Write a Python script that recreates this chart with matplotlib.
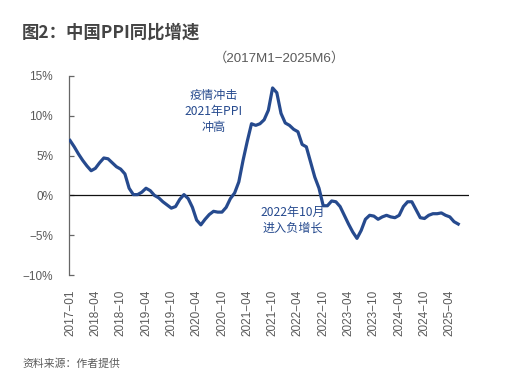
import matplotlib
matplotlib.use("Agg")
import matplotlib.pyplot as plt

plt.rcParams['font.family'] = ['Noto Sans CJK SC', 'DejaVu Sans']

months = (["2017-01", "2017-11", "2017-12"] +
          [f"{y}-{m:02d}" for y in range(2018, 2025) for m in range(1, 13)] +
          [f"2025-{m:02d}" for m in range(1, 7)])

ppi_2017 = [6.9, 6.1, 5.2]
ppi_2018 = [4.4, 3.7, 3.1, 3.4, 4.1, 4.7, 4.6, 4.1, 3.6, 3.3, 2.7, 0.9]
ppi_2019 = [0.1, 0.1, 0.4, 0.9, 0.6, 0.0, -0.3, -0.8, -1.2, -1.6, -1.4, -0.5]
ppi_2020 = [0.1, -0.4, -1.5, -3.1, -3.7, -3.0, -2.4, -2.0, -2.1, -2.1, -1.5, -0.4]
ppi_2021 = [0.3, 1.7, 4.4, 6.8, 9.0, 8.8, 9.0, 9.5, 10.7, 13.5, 12.9, 10.3]
ppi_2022 = [9.1, 8.8, 8.3, 8.0, 6.4, 6.1, 4.2, 2.3, 0.9, -1.3, -1.3, -0.7]
ppi_2023 = [-0.8, -1.4, -2.5, -3.6, -4.6, -5.4, -4.4, -3.0, -2.5, -2.6, -3.0, -2.7]
ppi_2024 = [-2.5, -2.7, -2.8, -2.5, -1.4, -0.8, -0.8, -1.8, -2.8, -2.9, -2.5, -2.3]
ppi_2025 = [-2.3, -2.2, -2.5, -2.7, -3.3, -3.6]
ppi = ppi_2017 + ppi_2018 + ppi_2019 + ppi_2020 + ppi_2021 + ppi_2022 + ppi_2023 + ppi_2024 + ppi_2025

y_ticks = [15, 10, 5, 0, -5, -10]
y_tick_labels = ["15%", "10%", "5%", "0%", "\u22125%", "\u221210%"]
x_tick_idx = list(range(0, len(months), 6))
x_tick_labels = [months[i].replace("-", "\u2212") for i in x_tick_idx]

title = "图2：中国PPI同比增速"
subtitle = "（2017M1−2025M6）"
source = "资料来源：作者提供"
note1 = "疫情冲击\n2021年PPI\n冲高"
note2 = "2022年10月\n进入负增长"

line_color = "#264a8e"
text_gray = "#5a5a5a"
num_font = ['Liberation Sans', 'Noto Sans CJK SC']

fig = plt.figure(figsize=(5.07, 3.82), dpi=100)
W, H = 507, 382
ax = fig.add_axes([69 / W, 1 - 275 / H, 400 / W, 199 / H])

x = list(range(len(ppi)))
ax.plot(x, ppi, color=line_color, lw=2.3, solid_joinstyle='round', zorder=3)
ax.axhline(0, color="#111111", lw=0.9, zorder=2)

ax.set_xlim(-0.25, 94.55)
ax.set_ylim(-10, 15)
for s in ["top", "right", "bottom"]:
    ax.spines[s].set_visible(False)
ax.spines["left"].set_color("#666666")
ax.spines["left"].set_linewidth(0.9)

ax.set_yticks(y_ticks)
ax.set_yticklabels(y_tick_labels, family=num_font)
ax.tick_params(axis="y", direction="in", length=3.5, width=0.9, color="#666666",
               labelsize=8.5, labelcolor=text_gray, pad=11.5)
ax.set_xticks(x_tick_idx)
ax.set_xticklabels(x_tick_labels, rotation=90, family=num_font)
ax.tick_params(axis="x", length=0, labelsize=8.5, labelcolor=text_gray, pad=10.5)

ax.text(214 / W, 1 - 112 / H, note1, transform=fig.transFigure, ha="center", va="center",
        color=line_color, fontsize=8.7, linespacing=1.3)
ax.text(293 / W, 1 - 220 / H, note2, transform=fig.transFigure, ha="center", va="center",
        color=line_color, fontsize=8.7, linespacing=1.3)

fig.text(22 / W, 1 - 33 / H, title, ha="left", va="center", fontsize=12.5,
         fontweight="bold", color="#444444")
fig.text(279 / W, 1 - 58 / H, subtitle, ha="center", va="center", fontsize=9.6,
         color=text_gray, family=num_font)
fig.text(22 / W, 1 - 364 / H, source, ha="left", va="center", fontsize=7.8,
         color=text_gray, style="italic")

fig.savefig("out.png", dpi=100)
